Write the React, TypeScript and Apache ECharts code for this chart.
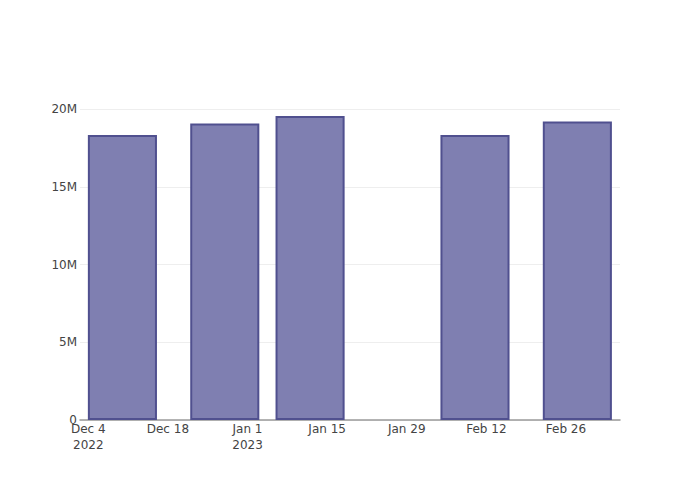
import React, { useEffect, useRef } from "react";
import * as echarts from "echarts";

const barDates = ["2022-12-10", "2022-12-28", "2023-01-12", "2023-02-10", "2023-02-28"];
const barValues = [18330000, 19070000, 19550000, 18330000, 19200000];

const tickDates = ["2022-12-04", "2022-12-18", "2023-01-01", "2023-01-15", "2023-01-29", "2023-02-12", "2023-02-26"];
const tickLabels = ["Dec 4\n2022", "Dec 18", "Jan 1\n2023", "Jan 15", "Jan 29", "Feb 12", "Feb 26"];

const xRangeStart = "2022-12-02T13:00:00Z";
const xRangeEnd = "2023-03-07T12:00:00Z";
const yMax = 20580000;

const toTs = (d: string) => (d.includes("T") ? Date.parse(d) : Date.parse(d + "T00:00:00Z"));

export default function App() {
  const ref = useRef<HTMLDivElement>(null);
  useEffect(() => {
    if (!ref.current) return;
    const chart = echarts.init(ref.current, undefined, { renderer: "svg" });
    const tickTs = tickDates.map(toTs);
    chart.setOption({
      animation: false,
      textStyle: { fontFamily: "DejaVu Sans" },
      grid: { left: 80, right: 80, top: 100, bottom: 80, containLabel: false },
      xAxis: {
        type: "value",
        min: toTs(xRangeStart),
        max: toTs(xRangeEnd),
        splitLine: { show: false },
        axisLine: { show: true, lineStyle: { color: "#9a9a9a", width: 1.5 } },
        axisTick: { show: false },
        axisLabel: {
          customValues: tickTs,
          color: "#444",
          fontSize: 12,
          lineHeight: 16,
          margin: 1,
          showMinLabel: true,
          showMaxLabel: true,
          formatter: (v: number) => {
            const i = tickTs.indexOf(v);
            return i >= 0 ? tickLabels[i] : "";
          },
        },
      },
      yAxis: {
        type: "value",
        min: 0,
        max: yMax,
        interval: 5000000,
        axisLine: { show: false },
        axisTick: { show: false },
        splitLine: { show: true, showMaxLine: false, lineStyle: { color: "#eeeeee", width: 1 } },
        axisLabel: {
          color: "#444",
          fontSize: 12,
          margin: 3,
          showMaxLabel: false,
          formatter: (v: number) => (v === 0 ? "0" : v / 1000000 + "M"),
        },
      },
      series: [
        {
          type: "bar",
          barWidth: "81%",
          data: barDates.map((d, i) => [toTs(d), barValues[i]]),
          itemStyle: { color: "#7f7fb1", borderColor: "#50508f", borderWidth: 2 },
        },
      ],
    });
    return () => chart.dispose();
  }, []);
  return <div ref={ref} style={{ position: "absolute", left: 0, top: 0, width: 700, height: 500 }} />;
}
